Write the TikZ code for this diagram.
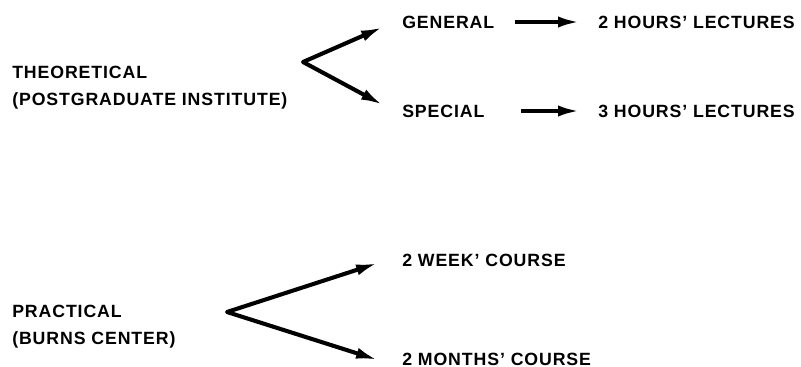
\documentclass[tikz,border=0pt]{standalone}
\usepackage{fontspec}
\setmainfont{Liberation Sans}[LetterSpace=5]
\usepackage{tikz}
\usetikzlibrary{arrows.meta,positioning,calc}

\begin{document}
\begin{tikzpicture}[x=0.025cm, y=-0.025cm,
    lbl/.style={anchor=west, inner sep=0pt, font=\bfseries\fontsize{12.6}{18.5}\selectfont, text height=9pt, text depth=0pt},
    block/.style={anchor=north west, inner sep=0pt, align=left, font=\bfseries\fontsize{12.6}{19.3}\selectfont},
    arr/.style={line width=2.8pt, -{Latex[length=5.5mm,width=2.8mm]}},
    chev/.style={line width=2.9pt, line join=round, {Latex[length=5.5mm,width=2.8mm]}-{Latex[length=5.5mm,width=2.8mm]}}]
    \useasboundingbox (0,0) rectangle (801,367);

    % theoretical branch
    \node (theo) at (12,66) [block] {THEORETICAL\\(POSTGRADUATE INSTITUTE)};
    \node (gen) at (402,22) [lbl] {GENERAL};
    \node (spec) at (402,111) [lbl] {SPECIAL};
    \node (hrs2) at (598,22) [lbl] {2 HOURS' LECTURES};
    \node (hrs3) at (598,111) [lbl] {3 HOURS' LECTURES};

    \coordinate (tv) at (303,62);
    \coordinate (tu) at (383,27);
    \coordinate (tl) at (383,105);
    \draw[chev] (tu) -- (tv) -- (tl);

    \draw[arr, shorten <=20*0.025cm, shorten >=18*0.025cm] (gen) -- (hrs2);
    \draw[arr, shorten <=36*0.025cm, shorten >=18*0.025cm] (spec) -- (hrs3);

    % practical branch
    \node (prac) at (12,305) [block] {PRACTICAL\\(BURNS CENTER)};
    \node (week) at (402,260) [lbl] {2 WEEK' COURSE};
    \node (month) at (402,359) [lbl] {2 MONTHS' COURSE};

    \coordinate (pv) at (227,312);
    \coordinate (pu) at (378,263);
    \coordinate (pl) at (378,360);
    \draw[chev] (pu) -- (pv) -- (pl);
\end{tikzpicture}
\end{document}
